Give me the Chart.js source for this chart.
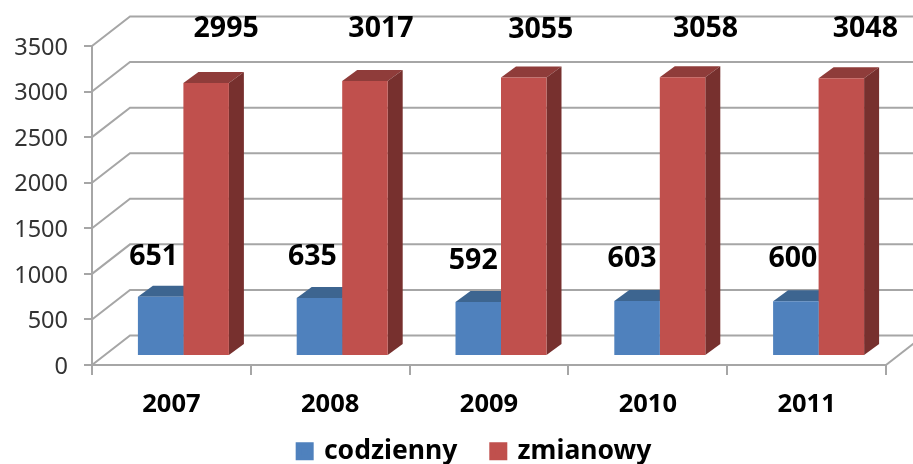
<!DOCTYPE html>
<html>
<head>
<meta charset="utf-8">
<style>
html,body{margin:0;padding:0;background:#fff;overflow:hidden}
canvas{display:block;filter:blur(0.45px)}
</style>
<script src="https://cdn.jsdelivr.net/npm/chart.js@4"></script>
</head>
<body>
<canvas id="c" width="913" height="464"></canvas>
<script>
const years = ['2007', '2008', '2009', '2010', '2011'];
const codzienny = [651, 635, 592, 603, 600];
const zmianowy = [2995, 3017, 3055, 3058, 3048];
const yTicks = [0, 500, 1000, 1500, 2000, 2500, 3000, 3500];

// 3D look: wall depth and bar depth, in pixels
const WALL = {dx: 38, dy: -29.5};
const BAR_SHIFT = {dx: 12, dy: -9};
const BAR_DEPTH = {dx: 15, dy: -11};
const GREY = '#a6a6a6';
const FONT = '"Noto Sans", sans-serif';
// hand-placed data labels, offset from each bar's top (as in the reference)
const labelNudge = [
  [[5, -49], [5, -50], [7, -50], [7, -51], [9, -51]],
  [[32, -63], [28, -61], [29, -57], [35, -57], [36, -58]]
];
const faces = [
  {top: '#3d6590', side: '#335577'},
  {top: '#8f3c3a', side: '#77302e'}
];

const wallPlugin = {
  id: 'wall',
  beforeLayout(chart) {
    const legend = chart.legend;
    if (legend && !legend._fixedFit) {
      const fit = legend.fit;
      legend.fit = function () { fit.call(this); this.height = 45; };
      legend._fixedFit = true;
    }
  },
  afterLayout(chart) {
    const legend = chart.legend;
    legend.top = 403;
    legend.left += 32;
    legend.right += 32;
    const y = chart.scales.y;
    if (!y._nudged) {
      const items = y.getLabelItems;
      y.getLabelItems = function (a) {
        return items.call(this, a).map(it => ({
          ...it,
          options: {...it.options, translation: [it.options.translation[0], it.options.translation[1] + 2]}
        }));
      };
      y._nudged = true;
    }
  },
  beforeDatasetsDraw(chart) {
    const {ctx, chartArea: a, scales: {y}} = chart;
    ctx.save();
    ctx.strokeStyle = GREY;
    ctx.lineWidth = 2;
    y.ticks.forEach(t => {
      const py = y.getPixelForValue(t.value);
      ctx.beginPath();
      ctx.moveTo(a.left, py);
      ctx.lineTo(a.left + WALL.dx, py + WALL.dy);
      ctx.lineTo(a.right + WALL.dx, py + WALL.dy);
      ctx.stroke();
    });
    const py0 = y.getPixelForValue(0);
    ctx.beginPath();
    ctx.moveTo(a.right, py0);
    ctx.lineTo(a.right + WALL.dx, py0 + WALL.dy);
    ctx.stroke();
    ctx.restore();
    // bar depth faces
    ctx.save();
    ctx.translate(BAR_SHIFT.dx, BAR_SHIFT.dy);
    chart.data.datasets.forEach((ds, di) => {
      chart.getDatasetMeta(di).data.forEach(bar => {
        const l = bar.x - bar.width / 2, r = bar.x + bar.width / 2;
        const t = bar.y, b = bar.base;
        ctx.fillStyle = faces[di].top;
        ctx.beginPath();
        ctx.moveTo(l, t);
        ctx.lineTo(l + BAR_DEPTH.dx, t + BAR_DEPTH.dy);
        ctx.lineTo(r + BAR_DEPTH.dx, t + BAR_DEPTH.dy);
        ctx.lineTo(r, t);
        ctx.closePath();
        ctx.fill();
        ctx.fillStyle = faces[di].side;
        ctx.beginPath();
        ctx.moveTo(r, t);
        ctx.lineTo(r + BAR_DEPTH.dx, t + BAR_DEPTH.dy);
        ctx.lineTo(r + BAR_DEPTH.dx, b + BAR_DEPTH.dy);
        ctx.lineTo(r, b);
        ctx.closePath();
        ctx.fill();
      });
    });
    // front faces are drawn by Chart.js, shifted the same way
  }
};

const shiftEnd = {
  id: 'shiftEnd',
  afterDatasetsDraw(chart) {
    const {ctx} = chart;
    ctx.restore();
    ctx.save();
    ctx.fillStyle = '#000';
    ctx.font = 'bold 28.5px ' + FONT;
    ctx.textAlign = 'center';
    ctx.textBaseline = 'middle';
    chart.data.datasets.forEach((ds, di) => {
      chart.getDatasetMeta(di).data.forEach((bar, i) => {
        const [nx, ny] = labelNudge[di][i];
        ctx.fillText(String(ds.data[i]), bar.x + nx, bar.y + ny);
      });
    });
    ctx.restore();
  }
};

new Chart(document.getElementById('c'), {
  type: 'bar',
  data: {
    labels: years,
    datasets: [
      {label: 'codzienny', data: codzienny, backgroundColor: '#4f81bd', clip: false},
      {label: 'zmianowy', data: zmianowy, backgroundColor: '#c0504d', clip: false}
    ]
  },
  plugins: [wallPlugin, shiftEnd],
  options: {
    responsive: false,
    animation: false,
    devicePixelRatio: 1,
    layout: {padding: {top: 46, right: 27, left: 0, bottom: 0}},
    datasets: {bar: {categoryPercentage: 0.573, barPercentage: 1}},
    plugins: {
      tooltip: {enabled: false},
      legend: {
        position: 'bottom',
        labels: {
          boxWidth: 12, boxHeight: 12, padding: 35,
          color: '#000',
          font: {family: FONT, size: 26.5, weight: 'bold'},
          generateLabels(chart) {
            return Chart.defaults.plugins.legend.labels.generateLabels(chart).map(item => ({
              ...item, strokeStyle: item.fillStyle, lineWidth: 6
            }));
          }
        }
      }
    },
    scales: {
      x: {
        afterFit(s) { s.height = 54; },
        grid: {offset: true, drawOnChartArea: false, color: GREY, lineWidth: 2, tickLength: 10},
        border: {color: GREY, width: 2},
        ticks: {color: '#000', padding: 14, font: {family: FONT, size: 25.5, weight: 'bold'}}
      },
      y: {
        min: 0, max: 3500,
        afterFit(s) { s.width = 92; },
        afterBuildTicks(s) { s.ticks = yTicks.map(value => ({value})); },
        grid: {drawOnChartArea: false, color: GREY, lineWidth: 2, tickLength: 8},
        border: {color: GREY, width: 2},
        ticks: {color: '#333', padding: 16, font: {family: FONT, size: 23.5}, callback: v => String(v)}
      }
    }
  }
});
</script>
</body>
</html>
